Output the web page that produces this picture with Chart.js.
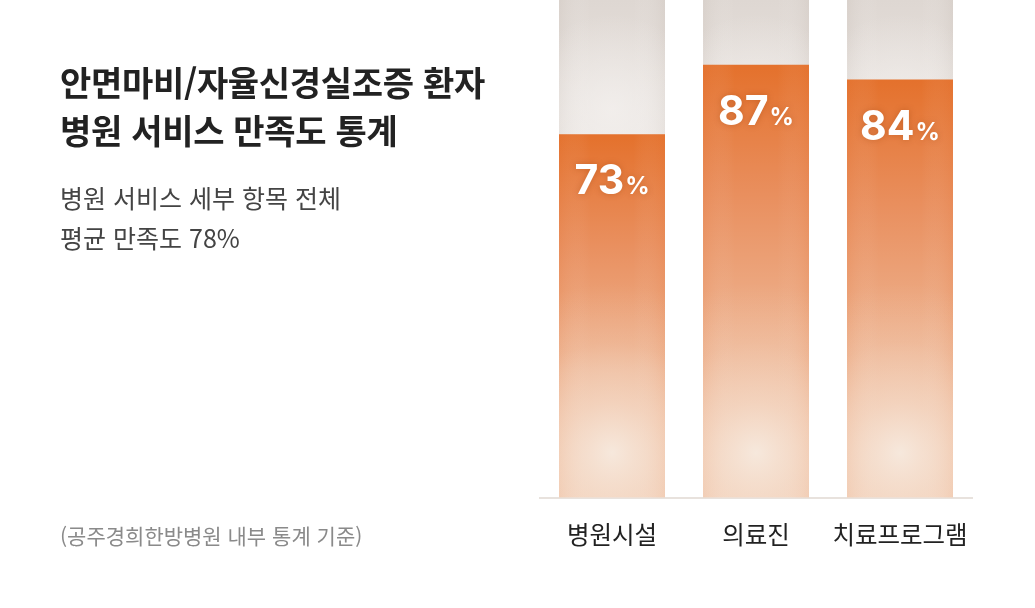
<!DOCTYPE html>
<html lang="ko">
<head>
<meta charset="utf-8">
<script src="https://cdn.jsdelivr.net/npm/chart.js@4.4.1/dist/chart.umd.min.js"></script>
<style>
  html, body { margin: 0; padding: 0; background: #fff; }
  #wrap { position: relative; width: 1035px; height: 608px; overflow: hidden;
          font-family: "Noto Sans CJK KR", "Noto Sans", sans-serif; }
  #chart { position: absolute; left: 0; top: 0; }
  .title { position: absolute; left: 60px; top: 58px; margin: 0; font-size: 34px; font-weight: 700;
           line-height: 48px; color: #222; letter-spacing: -0.3px; }
  .sub { position: absolute; left: 60px; top: 177px; margin: 0; font-size: 25px; font-weight: 400;
         line-height: 40px; color: #444; }
  .note { position: absolute; left: 60px; top: 520px; margin: 0; font-size: 21px; color: #8a8a8a; }
</style>
</head>
<body>
<div id="wrap">
  <canvas id="chart" width="1035" height="608"></canvas>
  <h1 class="title">안면마비/자율신경실조증 환자<br>병원 서비스 만족도 통계</h1>
  <p class="sub">병원 서비스 세부 항목 전체<br>평균 만족도 78%</p>
  <p class="note">(공주경희한방병원 내부 통계 기준)</p>
</div>
<script>
var categories = ['병원시설', '의료진', '치료프로그램'];
var satisfaction = [73, 87, 84];
var fullScale = [100, 100, 100];

// orange bar: strong at its own top, fading to pale at the base
function orangeFill(context) {
    var chart = context.chart;
    if (!chart.chartArea) return '#E8762F';
    var y = chart.scales.y;
    var top = y.getPixelForValue(context.raw);
    var bottom = y.getPixelForValue(0);
    var g = chart.ctx.createLinearGradient(0, top, 0, bottom);
    g.addColorStop(0, '#E4712C');
    g.addColorStop(0.3, '#E98F5E');
    g.addColorStop(0.65, '#EEB593');
    g.addColorStop(1, '#F1CAB0');
    return g;
}

function grayFill(context) {
    var chart = context.chart;
    if (!chart.chartArea) return '#EAE5E1';
    var g = chart.ctx.createLinearGradient(0, chart.chartArea.top, 0, chart.scales.y.getPixelForValue(60));
    g.addColorStop(0, '#DED7D2');
    g.addColorStop(1, '#F1EDEA');
    return g;
}

// soft glow inside each bar, drawn from the bar elements themselves
var glowPlugin = {
    id: 'glow',
    afterDatasetDraw: function(chart, args) {
        var ctx = chart.ctx;
        var meta = args.meta;
        var isOrange = args.index === 0;
        meta.data.forEach(function(bar) {
            var p = bar.getProps(['x', 'y', 'base', 'width'], true);
            var left = p.x - p.width / 2;
            var h = p.base - p.y;
            ctx.save();
            ctx.beginPath();
            ctx.rect(left, p.y, p.width, h);
            ctx.clip();
            // darker side edges
            var edge = isOrange ? 'rgba(228,120,60,0.16)' : 'rgba(200,190,182,0.25)';
            var side = ctx.createLinearGradient(left, 0, left + p.width, 0);
            side.addColorStop(0, edge);
            side.addColorStop(0.3, 'rgba(255,255,255,0)');
            side.addColorStop(0.7, 'rgba(255,255,255,0)');
            side.addColorStop(1, edge);
            ctx.fillStyle = side;
            ctx.fillRect(left, p.y, p.width, h);
            if (isOrange) {
                var cy = p.base - 45;
                var r = ctx.createRadialGradient(p.x, cy, 0, p.x, cy, p.width * 1.6);
                r.addColorStop(0, 'rgba(247,236,226,0.9)');
                r.addColorStop(0.3, 'rgba(246,228,214,0.55)');
                r.addColorStop(0.65, 'rgba(246,228,214,0.15)');
                r.addColorStop(1, 'rgba(246,228,214,0)');
                ctx.fillStyle = r;
                ctx.fillRect(left, p.y, p.width, h);
            } else {
                var cy2 = chart.scales.y.getPixelForValue(78);
                var r2 = ctx.createRadialGradient(p.x, cy2, 0, p.x, cy2, p.width * 0.9);
                r2.addColorStop(0, 'rgba(245,242,240,0.7)');
                r2.addColorStop(1, 'rgba(245,242,240,0)');
                ctx.fillStyle = r2;
                ctx.fillRect(left, p.y, p.width, h);
            }
            ctx.restore();
        });
    }
};

// "73%" style labels inside the orange bars
var valueLabelPlugin = {
    id: 'valueLabels',
    afterDatasetsDraw: function(chart) {
        var ctx = chart.ctx;
        var meta = chart.getDatasetMeta(0);
        var bigFont = '700 41px Inter, "Noto Sans", sans-serif';
        var smallFont = '700 24px Inter, "Noto Sans", sans-serif';
        meta.data.forEach(function(bar, i) {
            var num = String(satisfaction[i]);
            ctx.save();
            ctx.textBaseline = 'alphabetic';
            ctx.textAlign = 'left';
            ctx.fillStyle = '#ffffff';
            ctx.shadowColor = 'rgba(150,60,10,0.35)';
            ctx.shadowBlur = 6;
            ctx.font = bigFont;
            var w1 = ctx.measureText(num).width;
            ctx.font = smallFont;
            var w2 = ctx.measureText('%').width;
            var gap = 1;
            var start = bar.x - (w1 + gap + w2) / 2;
            var baseline = bar.y + 60;
            ctx.font = bigFont;
            ctx.fillText(num, start, baseline);
            ctx.font = smallFont;
            ctx.fillText('%', start + w1 + gap, baseline);
            ctx.restore();
        });
    }
};

new Chart(document.getElementById('chart'), {
    type: 'bar',
    data: {
        labels: categories,
        datasets: [{
            label: '만족도',
            data: satisfaction,
            backgroundColor: orangeFill,
            borderWidth: 0,
            grouped: false,
            barPercentage: 0.736,
            categoryPercentage: 1,
            order: 0
        }, {
            label: '전체',
            data: fullScale,
            backgroundColor: grayFill,
            borderWidth: 0,
            grouped: false,
            barPercentage: 0.736,
            categoryPercentage: 1,
            order: 1
        }]
    },
    options: {
        responsive: false,
        animation: false,
        layout: { padding: { left: 540, right: 63, top: 0, bottom: 37 } },
        plugins: {
            legend: { display: false },
            tooltip: { enabled: false }
        },
        scales: {
            x: {
                grid: { display: false, drawTicks: false },
                border: { display: true, color: '#E8E2DD', width: 2 },
                ticks: {
                    color: '#222222',
                    padding: 22,
                    font: { family: '"Noto Sans CJK KR", sans-serif', size: 24.5, weight: 400 }
                }
            },
            y: {
                display: false,
                min: 0,
                max: 100
            }
        }
    },
    plugins: [glowPlugin, valueLabelPlugin]
});
</script>
</body>
</html>
